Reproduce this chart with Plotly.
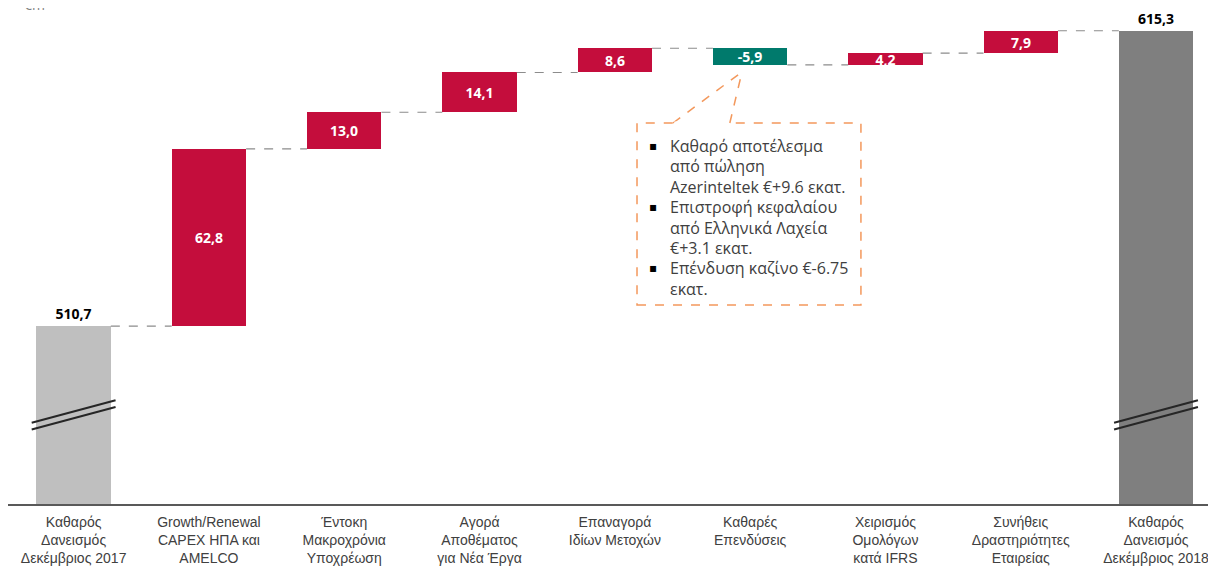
import plotly.graph_objects as go

# ---------------- data ----------------
categories = [
    "Καθαρός<br>Δανεισμός<br>Δεκέμβριος 2017",
    "Growth/Renewal<br>CAPEX ΗΠΑ και<br>AMELCO",
    "Έντοκη<br>Μακροχρόνια<br>Υποχρέωση",
    "Αγορά<br>Αποθέματος<br>για Νέα Έργα",
    "Επαναγορά<br>Ιδίων Μετοχών",
    "Καθαρές<br>Επενδύσεις",
    "Χειρισμός<br>Ομολόγων<br>κατά IFRS",
    "Συνήθεις<br>Δραστηριότητες<br>Εταιρείας",
    "Καθαρός<br>Δανεισμός<br>Δεκέμβριος 2018",
]
start_total = 510.7
changes = [62.8, 13.0, 14.1, 8.6, -5.9, 4.2, 7.9]
end_total = 615.3
axis_floor = 447.6  # broken-axis baseline value

note_items = [
    ["Καθαρό αποτέλεσμα", "από πώληση", "Azerinteltek €+9.6 εκατ."],
    ["Επιστροφή κεφαλαίου", "από Ελληνικά Λαχεία", "€+3.1 εκατ."],
    ["Επένδυση καζίνο €-6.75", "εκατ."],
]
unit_label = "€m"

# ---------------- style ----------------
RED = "#C40D3C"
TEAL = "#007A6C"
LIGHT_GRAY = "#BFBFBF"
DARK_GRAY = "#7F7F7F"
ORANGE = "#F3985C"
TEXT = "#404040"
BAR_W = 0.55

n = len(categories)
xs = list(range(n))

bases, heights, colors, texts, tpos, tcolors = [], [], [], [], [], []
levels = []
fmt = lambda v: f"<b>{v:.1f}</b>".replace(".", ",")

bases.append(axis_floor); heights.append(start_total - axis_floor)
colors.append(LIGHT_GRAY); texts.append(fmt(start_total)); tpos.append("outside"); tcolors.append("#000000")
run = start_total
levels.append(run)
for c in changes:
    lo = min(run, run + c)
    bases.append(lo); heights.append(abs(c))
    colors.append(RED if c >= 0 else TEAL)
    texts.append(fmt(c)); tpos.append("inside"); tcolors.append("#FFFFFF")
    run += c
    levels.append(run)
bases.append(axis_floor); heights.append(end_total - axis_floor)
colors.append(DARK_GRAY); texts.append(fmt(end_total)); tpos.append("outside"); tcolors.append("#000000")

fig = go.Figure()
fig.add_trace(go.Bar(
    x=xs, y=heights, base=bases, width=BAR_W,
    marker=dict(color=colors, line=dict(width=0)),
    text=texts, textposition=tpos,
    insidetextanchor="middle",
    textfont=dict(family="Open Sans", size=14, color=tcolors),
    constraintext="none", cliponaxis=False,
    hoverinfo="skip",
))

shapes = []
for i in range(n - 1):
    lvl = levels[i]
    shapes.append(dict(type="line", xref="x", yref="y",
                       x0=i + BAR_W / 2, x1=i + 1 - BAR_W / 2, y0=lvl, y1=lvl,
                       line=dict(color="#8C8C8C", width=1.2, dash="dash")))

# axis break marks
for bx in (0, n - 1):
    for dy in (0, -2.4):
        shapes.append(dict(type="line", xref="x", yref="y",
                           x0=bx - 0.31, x1=bx + 0.31,
                           y0=476.4 + dy, y1=484.4 + dy,
                           line=dict(color="#262626", width=2)))

# callout box
shapes.append(dict(type="rect", xref="x", yref="y",
                   x0=4.164, x1=5.819, y0=518.2, y1=582.7,
                   line=dict(color=ORANGE, width=1.5, dash="dash")))
tip = (4.94, 600.8)
for sx in (4.43, 4.85):
    shapes.append(dict(type="line", xref="x", yref="y",
                       x0=sx, y0=582.7, x1=tip[0], y1=tip[1],
                       line=dict(color=ORANGE, width=1.5, dash="dash")))
shapes.append(dict(type="line", xref="x", yref="y",
                   x0=4.44, x1=4.84, y0=582.7, y1=582.7,
                   line=dict(color="white", width=3)))

annotations = []
px_per_unit = 2.8203
line_y0 = 582.7 - (146 - 123) / px_per_unit
dy_line = 20.4 / px_per_unit
k = 0
for item in note_items:
    for j, line in enumerate(item):
        yv = line_y0 - k * dy_line
        if j == 0:
            annotations.append(dict(x=4.235, y=yv, xref="x", yref="y", text="▪",
                                    showarrow=False, xanchor="left", yanchor="middle",
                                    font=dict(family="DejaVu Sans", size=12, color="#000000")))
        annotations.append(dict(x=4.39, y=yv, xref="x", yref="y", text=line,
                                showarrow=False, xanchor="left", yanchor="middle",
                                font=dict(family="Open Sans", size=16, color=TEXT)))
        k += 1

annotations.append(dict(x=0.012, y=1.012, xref="paper", yref="paper", text=unit_label,
                        showarrow=False, xanchor="left", yanchor="middle",
                        font=dict(family="Open Sans", size=14, color="#7F7F7F")))

fig.update_layout(
    width=1208, height=558,
    margin=dict(l=0, r=6, t=2, b=62),
    paper_bgcolor="white", plot_bgcolor="white",
    showlegend=False, bargap=0,
    shapes=shapes, annotations=annotations,
    xaxis=dict(tickmode="array", tickvals=xs, ticktext=categories,
               range=[-0.485, 8.399], showgrid=False, zeroline=False,
               showline=True, linecolor="#595959", linewidth=1.5,
               ticks="", ticklabelstandoff=4,
               tickfont=dict(family="Liberation Sans, Arial", size=14, color=TEXT)),
    yaxis=dict(range=[axis_floor, axis_floor + 494 / px_per_unit], visible=False,
               showgrid=False, zeroline=False),
)

fig.write_html("out.html")
